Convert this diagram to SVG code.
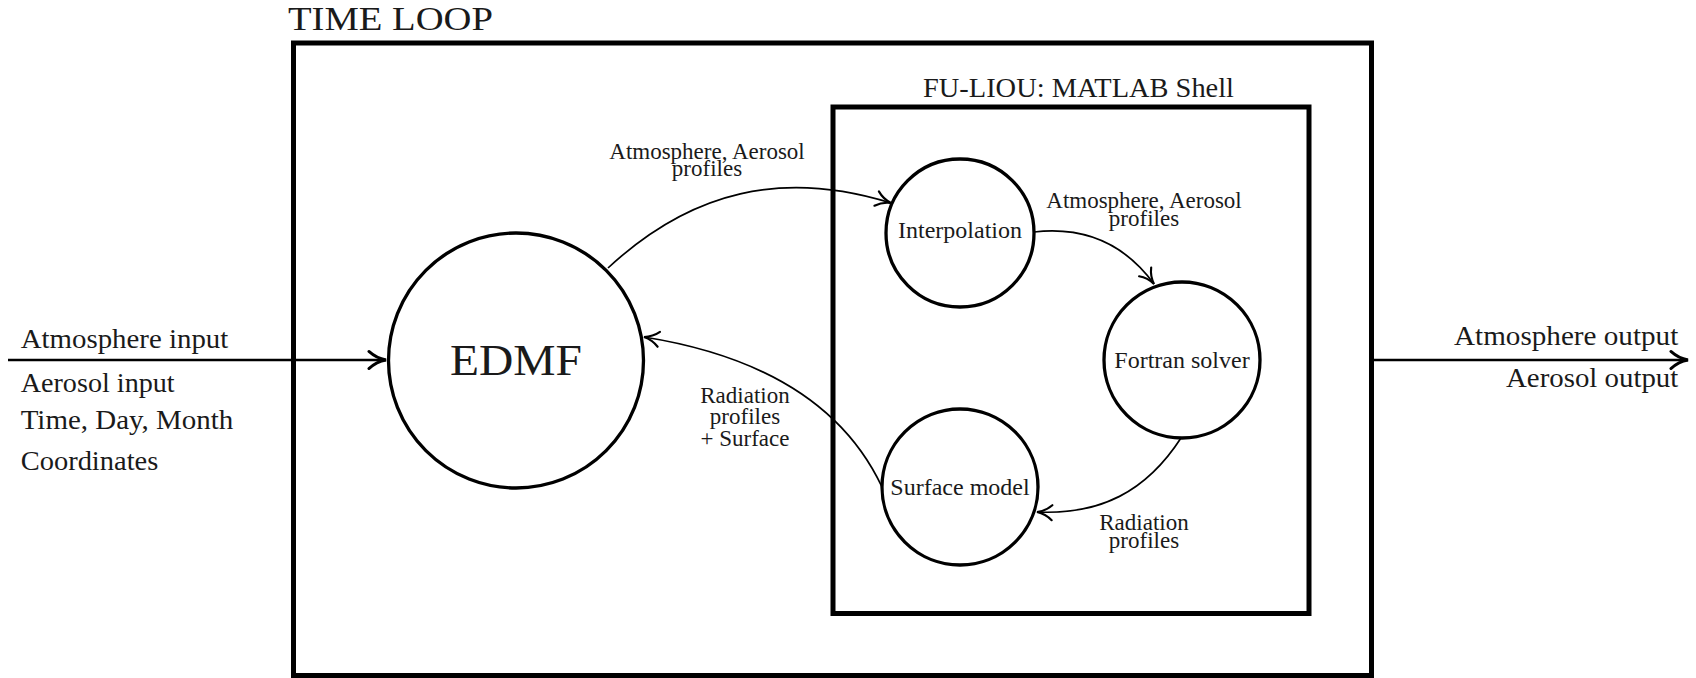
<svg xmlns="http://www.w3.org/2000/svg" width="1696" height="678" viewBox="0 0 1696 678">
<defs>
<style>
text{font-family:"Liberation Serif","Times New Roman",serif;fill:#1a1a1a}
.box{fill:none;stroke:#000;stroke-width:5}
.node{fill:#fff;stroke:#000;stroke-width:3.3}
.edge{fill:none;stroke:#000;stroke-width:1.7}
.io{fill:none;stroke:#000;stroke-width:2.6}
.ntext{font-size:24px;text-anchor:middle}
.lbl{font-size:23px;text-anchor:middle}
.side{font-size:28px}
</style>
<marker id="arr" markerUnits="userSpaceOnUse" markerWidth="20" markerHeight="20" viewBox="-14 -8 16 16" refX="0" refY="0" orient="auto">
<path d="M-12,-6 C-8,-2.2 -3.5,-0.6 0,0 C-3.5,0.6 -8,2.2 -12,6" fill="none" stroke="#000" stroke-width="1.7" stroke-linecap="round"/>
</marker>
<marker id="arrb" markerUnits="userSpaceOnUse" markerWidth="22" markerHeight="22" viewBox="-16 -9 18 18" refX="0" refY="0" orient="auto">
<path d="M-14,-7 C-9,-2.5 -4,-0.7 0,0 C-4,0.7 -9,2.5 -14,7" fill="none" stroke="#000" stroke-width="2.4" stroke-linecap="round"/>
</marker>
</defs>

<g id="time-loop">
<rect class="box" x="293.5" y="43" width="1078" height="632.5"/>
<text x="288" y="30" font-size="34" textLength="205" lengthAdjust="spacingAndGlyphs">TIME LOOP</text>
</g>

<g id="fu-liou-shell">
<rect class="box" x="833" y="107" width="476" height="506.5"/>
<text x="923" y="96.7" font-size="28" textLength="311" lengthAdjust="spacingAndGlyphs">FU-LIOU: MATLAB Shell</text>
</g>

<g id="connectors">
<path class="io" d="M8,360 H386" marker-end="url(#arrb)"/>
<path class="io" d="M1372,360 H1688" marker-end="url(#arrb)"/>
<path class="edge" d="M608,268 C691.5,190.4 783,169.5 891,203" marker-end="url(#arr)"/>
<path class="edge" d="M1034,232 C1085.4,226.2 1124.3,243.4 1154,284" marker-end="url(#arr)"/>
<path class="edge" d="M1181,438 C1146,492 1100,515 1037,512" marker-end="url(#arr)"/>
<path class="edge" d="M882,487 C833.2,383.5 725.5,350 644,337" marker-end="url(#arr)"/>
</g>

<g id="labels">
<text class="side" x="20.7" y="348.3" textLength="207.6" lengthAdjust="spacingAndGlyphs">Atmosphere input</text>
<text class="side" x="20.7" y="391.7" textLength="154" lengthAdjust="spacingAndGlyphs">Aerosol input</text>
<text class="side" x="20.7" y="429.3" textLength="212.6" lengthAdjust="spacingAndGlyphs">Time, Day, Month</text>
<text class="side" x="20.7" y="470" textLength="137.6" lengthAdjust="spacingAndGlyphs">Coordinates</text>
<text class="side" x="1454" y="345" textLength="224.3" lengthAdjust="spacingAndGlyphs">Atmosphere output</text>
<text class="side" x="1506" y="387.3" textLength="172.3" lengthAdjust="spacingAndGlyphs">Aerosol output</text>
<text class="lbl"><tspan x="707" y="158.5">Atmosphere, Aerosol</tspan><tspan x="707" y="176">profiles</tspan></text>
<text class="lbl"><tspan x="1144" y="208.3">Atmosphere, Aerosol</tspan><tspan x="1144" y="225.7">profiles</tspan></text>
<text class="lbl"><tspan x="745" y="403">Radiation</tspan><tspan x="745" y="424">profiles</tspan><tspan x="745" y="446">+ Surface</tspan></text>
<text class="lbl"><tspan x="1144" y="530">Radiation</tspan><tspan x="1144" y="548.3">profiles</tspan></text>
</g>

<g id="edmf">
<circle class="node" cx="516" cy="360.5" r="127.5"/>
<text x="516" y="375" font-size="45" text-anchor="middle" textLength="132" lengthAdjust="spacingAndGlyphs">EDMF</text>
</g>

<g id="interpolation">
<circle class="node" cx="960" cy="233" r="74"/>
<text class="ntext" x="960" y="238.3">Interpolation</text>
</g>

<g id="fortran-solver">
<circle class="node" cx="1182" cy="360" r="78"/>
<text class="ntext" x="1182" y="368.3">Fortran solver</text>
</g>

<g id="surface-model">
<circle class="node" cx="960" cy="487" r="78"/>
<text class="ntext" x="960" y="495">Surface model</text>
</g>
</svg>
